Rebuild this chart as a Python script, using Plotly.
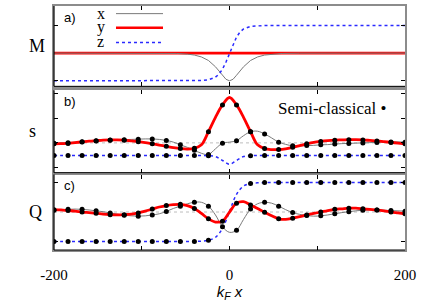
import plotly.graph_objects as go

# ---------------- data ----------------
# panel a) : magnetisation profile
xa = [-200, -80, -60, -48, -40, -32, -24, -16, -12, -8, -4, 0, 4, 8, 12, 16, 24, 32, 40, 48, 60, 80, 200]
Ma_x = [0.0, -0.003, -0.013, -0.037, -0.071, -0.139, -0.266, -0.494, -0.648, -0.80, -0.946, -1.0,
        -0.946, -0.80, -0.648, -0.494, -0.266, -0.139, -0.071, -0.037, -0.013, -0.003, 0.0]
Ma_y = [0.0, 0.0, 0.0, 0.0, 0.0, 0.0, 0.0, 0.0, 0.0, 0.0, 0.0, 0.0,
        0.0, 0.0, 0.0, 0.0, 0.0, 0.0, 0.0, 0.0, 0.0, 0.0, 0.0]
Ma_z = [-1.0, -1.0, -1.0, -0.999, -0.997, -0.99, -0.964, -0.87, -0.76, -0.58, -0.32, 0.0,
        0.32, 0.58, 0.76, 0.87, 0.964, 0.99, 0.997, 0.999, 1.0, 1.0, 1.0]

# panels b) and c) : sampled every 8 units from -200 to 200
xs = list(range(-200, 201, 8))

s_x = [-0.01, 0.0, 0.01, 0.03, 0.05, 0.07, 0.08, 0.10, 0.11, 0.12, 0.13, 0.14, 0.15, 0.16, 0.16,
       0.14, 0.10, 0.03, -0.08, -0.18, -0.30, -0.42, -0.47, -0.24, -0.01, 0.03, 0.09, 0.29, 0.45,
       0.47, 0.36, 0.20, 0.03, -0.06, -0.12, -0.12, -0.11, -0.10, -0.08, -0.07, -0.05, -0.03,
       -0.02, -0.01, 0.0, 0.01, 0.02, 0.03, 0.04, 0.04, 0.03]
s_y = [-0.04, -0.03, -0.02, 0.01, 0.04, 0.07, 0.09, 0.11, 0.12, 0.12, 0.11, 0.08, 0.05, 0.01, -0.04,
       -0.09, -0.14, -0.19, -0.23, -0.25, -0.22, -0.08, 0.45, 1.03, 1.53, 1.83, 1.53, 1.03, 0.45,
       -0.08, -0.23, -0.27, -0.27, -0.24, -0.18, -0.11, -0.04, 0.02, 0.06, 0.09, 0.11, 0.12,
       0.13, 0.13, 0.12, 0.10, 0.08, 0.05, 0.02, -0.01, -0.04]
s_z = [-0.51, -0.51, -0.51, -0.51, -0.51, -0.51, -0.51, -0.51, -0.51, -0.51, -0.51, -0.51, -0.51,
       -0.51, -0.51, -0.51, -0.51, -0.51, -0.51, -0.51, -0.51, -0.51, -0.52, -0.55, -0.71, -0.86,
       -0.71, -0.55, -0.52, -0.51, -0.51, -0.51, -0.51, -0.51, -0.51, -0.51, -0.51, -0.51, -0.51,
       -0.51, -0.51, -0.51, -0.51, -0.51, -0.51, -0.51, -0.51, -0.51, -0.51, -0.51, -0.51]

Q_x = [0.06, 0.07, 0.09, 0.10, 0.09, 0.07, 0.04, 0.01, -0.03, -0.07, -0.11, -0.13, -0.14, -0.13,
       -0.10, -0.06, 0.02, 0.12, 0.20, 0.28, 0.33, 0.33, 0.20, -0.10, -0.50, -0.69, -0.62, -0.25,
       0.10, 0.28, 0.33, 0.30, 0.20, 0.08, -0.02, -0.08, -0.12, -0.14, -0.13, -0.10, -0.06, -0.02,
       0.01, 0.04, 0.06, 0.07, 0.07, 0.06, 0.05, 0.04, 0.03]
Q_y = [0.08, 0.07, 0.05, 0.03, 0.0, -0.02, -0.04, -0.07, -0.09, -0.10, -0.09, -0.07, -0.03, 0.03,
       0.10, 0.17, 0.22, 0.25, 0.26, 0.22, 0.12, -0.05, -0.23, -0.34, -0.31, 0.0, 0.30, 0.35, 0.24,
       0.12, -0.01, -0.13, -0.23, -0.25, -0.21, -0.16, -0.10, -0.05, 0.0, 0.05, 0.09, 0.11, 0.13,
       0.13, 0.11, 0.09, 0.07, 0.04, 0.0, -0.03, -0.06]
Q_z = [-1.0, -1.0, -1.0, -1.0, -1.0, -1.0, -1.0, -1.0, -1.0, -1.0, -1.0, -1.0, -1.0, -1.0, -1.0,
       -1.0, -1.0, -1.0, -1.0, -1.0, -1.0, -0.99, -0.96, -0.86, -0.56, 0.02, 0.60, 0.88, 0.97, 0.99,
       1.0, 1.0, 1.0, 1.0, 1.0, 1.0, 1.0, 1.0, 1.0, 1.0, 1.0, 1.0, 1.0, 1.0, 1.0, 1.0, 1.0, 1.0,
       1.0, 1.0, 1.0]

x_major = [-200, 0, 200]
x_major_text = ["-200", "0", "200"]
x_minor = [-100, 100]
panel_names = ["M", "s", "Q"]
panel_tags = ["a)", "b)", "c)"]
legend_names = ["x", "y", "z"]

# ---------------- styles ----------------
RED = "#ff0000"
GRAY = "#7a7a7a"
BLUE = "#2a2aff"
SERIF = "Liberation Serif, Times New Roman, serif"
SANS = "Liberation Sans, Arial, sans-serif"

fig = go.Figure()

# panel a
fig.add_trace(go.Scatter(x=xa, y=Ma_y, mode="lines", line=dict(color=RED, width=2.6), xaxis="x", yaxis="y"))
fig.add_trace(go.Scatter(x=xa, y=Ma_x, mode="lines", line=dict(color=GRAY, width=1), xaxis="x", yaxis="y"))
fig.add_trace(go.Scatter(x=xa, y=Ma_z, mode="lines", line=dict(color=BLUE, width=1.5, dash="dot"), xaxis="x", yaxis="y"))

def add_panel(xref, yref, vx, vy, vz, skip_z):
    # zero reference
    fig.add_trace(go.Scatter(x=[xs[0], xs[-1]], y=[0, 0], mode="lines",
                             line=dict(color="#bdbdbd", width=1, dash="dot"), xaxis=xref, yaxis=yref))
    fig.add_trace(go.Scatter(x=xs, y=vx, mode="lines", line=dict(color=GRAY, width=1, shape="spline"),
                             xaxis=xref, yaxis=yref))
    fig.add_trace(go.Scatter(x=xs, y=vz, mode="lines", line=dict(color=BLUE, width=1.5, dash="dot", shape="spline"),
                             xaxis=xref, yaxis=yref))
    fig.add_trace(go.Scatter(x=xs, y=vy, mode="lines", line=dict(color=RED, width=2.8, shape="spline"),
                             xaxis=xref, yaxis=yref))
    mx = xs[::2]
    for arr, skip in ((vx, []), (vy, []), (vz, skip_z)):
        px = [xx for xx in mx if xx not in skip]
        py = [arr[xs.index(xx)] for xx in px]
        fig.add_trace(go.Scatter(x=px, y=py, mode="markers",
                                 marker=dict(color="black", size=5), xaxis=xref, yaxis=yref))

add_panel("x2", "y2", s_x, s_y, s_z, [-8, 8])
add_panel("x3", "y3", Q_x, Q_y, Q_z, [-8, 8])

# ---------------- layout ----------------
T, B = 4, 55
H = 305 - T - B
def dom(top_px, bot_px):
    return [(250 - bot_px) / H, (250 - top_px) / H]

common_x = dict(range=[-200, 200], tickvals=x_major, ticks="inside", ticklen=4, tickcolor="black",
                minor=dict(tickvals=x_minor, ticks="inside", ticklen=4, tickcolor="black", showgrid=False),
                showline=True, linecolor="#8c8c8c", linewidth=2, mirror="allticks",
                showgrid=False, zeroline=False, domain=[0, 1])
common_y = dict(ticks="inside", ticklen=4, tickcolor="black", showline=True, linecolor="#8c8c8c",
                linewidth=2, mirror="allticks", showgrid=False, zeroline=False, showticklabels=False)

fig.update_layout(
    width=436, height=305,
    margin=dict(l=54, r=31, t=T, b=B),
    paper_bgcolor="white", plot_bgcolor="white",
    showlegend=False,
    xaxis=dict(common_x, anchor="y", showticklabels=False),
    xaxis2=dict(common_x, anchor="y2", showticklabels=False),
    xaxis3=dict(common_x, anchor="y3", ticktext=x_major_text, ticklabelstandoff=10,
                tickfont=dict(family=SERIF, size=15, color="black"),
                title=dict(text="<i>k<sub>F</sub> x</i>", font=dict(family=SANS, size=15, color="black"),
                           standoff=2)),
    yaxis=dict(common_y, domain=dom(4, 85), range=[-1.2, 1.7], tickvals=[-1, 1]),
    yaxis2=dict(common_y, domain=dom(89, 172), range=[-1.2, 2.12], tickvals=[-1, 0, 1, 2]),
    yaxis3=dict(common_y, domain=dom(174, 250), range=[-1.29, 1.27], tickvals=[-1, 1]),
)

shapes = []
annotations = []
for i, yd in enumerate(["y domain", "y2 domain", "y3 domain"]):
    # black left and bottom frame lines
    shapes.append(dict(type="line", xref="x domain" if i == 0 else f"x{i+1} domain", yref=yd,
                       x0=0, x1=0, y0=0, y1=1, line=dict(color="black", width=1.2), layer="above"))
    shapes.append(dict(type="line", xref="x domain" if i == 0 else f"x{i+1} domain", yref=yd,
                       x0=0, x1=1, y0=0, y1=0, line=dict(color="black", width=1), layer="above"))
    annotations.append(dict(text=panel_names[i], xref="paper", yref=yd, x=(27 - 54) / 351, y=0.5,
                            xanchor="left", yanchor="middle", showarrow=False,
                            font=dict(family=SERIF, size=18, color="black")))
    annotations.append(dict(text=panel_tags[i], xref="paper", yref=yd, x=(62 - 54) / 351,
                            y=[0.86, 0.86, 0.85][i], xanchor="left", yanchor="middle", showarrow=False,
                            font=dict(family=SANS, size=13, color="black")))

# legend of panel a (text left of sample line)
leg_y_line = [11.7, 26, 40.7]
leg_y_text = [12, 25, 39.5]
leg_styles = [dict(color=GRAY, width=1), dict(color=RED, width=2.6), dict(color=BLUE, width=1.5, dash="dot")]
for k in range(3):
    yl = (250 - leg_y_line[k]) / H
    shapes.append(dict(type="line", xref="paper", yref="paper", x0=(116 - 54) / 351, x1=(163 - 54) / 351,
                       y0=yl, y1=yl, line=leg_styles[k]))
    annotations.append(dict(text=legend_names[k], xref="paper", yref="paper", x=(100.5 - 54) / 351,
                            y=(250 - leg_y_text[k]) / H, xanchor="center", yanchor="middle",
                            showarrow=False, font=dict(family=SERIF, size=16, color="black")))

annotations.append(dict(text="Semi-classical •", xref="paper", yref="y2 domain", x=(388 - 54) / 351, y=0.78,
                        xanchor="right", yanchor="middle", showarrow=False,
                        font=dict(family=SERIF, size=17, color="black")))

fig.update_layout(shapes=shapes, annotations=annotations)
fig.write_html("out.html", config={"displayModeBar": False},
               post_script="document.body.style.margin='0px';")
